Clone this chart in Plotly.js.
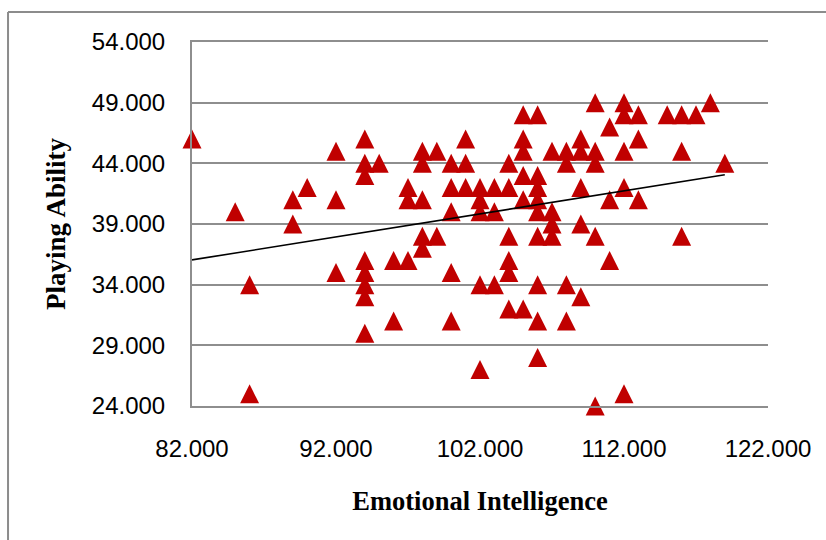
<!DOCTYPE html>
<html>
<head>
<meta charset="utf-8">
<script src="https://cdn.plot.ly/plotly-3.0.1.min.js"></script>
<style>
html,body{margin:0;padding:0;background:#ffffff;}
#chart{width:826px;height:540px;}
</style>
</head>
<body>
<div id="chart"></div>
<script>
// Emotional Intelligence (x) and Playing Ability (y) for each player
const emotionalIntelligence = [
  82, 85, 86, 86, 89, 89, 90, 92, 92, 92,
  94, 94, 94, 94, 94, 94, 94, 94, 95, 96, 96,
  97, 97, 97, 98, 98, 98, 98, 98, 99, 99,
  100, 100, 100, 100, 100, 101, 101, 101,
  102, 102, 102, 102, 102, 103, 103, 103,
  104, 104, 104, 104, 104, 104,
  105, 105, 105, 105, 105, 105,
  106, 106, 106, 106, 106, 106, 106, 106, 106,
  107, 107, 107, 107, 108, 108, 108, 108,
  109, 109, 109, 109, 109, 110, 110, 110, 110, 110,
  111, 111, 111, 112, 112, 112, 112, 112, 113, 113, 113,
  115, 116, 116, 116, 117, 118, 119
];
const playingAbility = [
  46, 40, 34, 25, 41, 39, 42, 45, 41, 35,
  46, 44, 43, 36, 35, 34, 33, 30, 44, 36, 31,
  42, 41, 36, 45, 44, 41, 38, 37, 45, 38,
  44, 42, 40, 35, 31, 46, 44, 42,
  42, 41, 40, 34, 27, 42, 40, 34,
  44, 42, 38, 36, 35, 32,
  48, 46, 45, 43, 41, 32,
  48, 43, 42, 41, 40, 38, 34, 31, 28,
  45, 40, 39, 38, 45, 44, 34, 31,
  46, 45, 42, 39, 33, 49, 45, 44, 38, 24,
  47, 41, 36, 49, 48, 45, 42, 25, 48, 46, 41,
  48, 48, 45, 38, 48, 49, 44
];
const xTickValues = [82, 92, 102, 112, 122];
const yTickValues = [24, 29, 34, 39, 44, 49, 54];
const xTitle = 'Emotional Intelligence';
const yTitle = 'Playing Ability';

// Linear least-squares trendline computed from the data
function linearFit(xs, ys) {
  const n = xs.length;
  let sx = 0, sy = 0;
  for (let i = 0; i < n; i++) { sx += xs[i]; sy += ys[i]; }
  const mx = sx / n, my = sy / n;
  let sxy = 0, sxx = 0;
  for (let i = 0; i < n; i++) {
    sxy += (xs[i] - mx) * (ys[i] - my);
    sxx += (xs[i] - mx) * (xs[i] - mx);
  }
  const slope = sxy / sxx;
  return { slope: slope, intercept: my - slope * mx };
}
const fit = linearFit(emotionalIntelligence, playingAbility);
const xMin = Math.min.apply(null, emotionalIntelligence);
const xMax = Math.max.apply(null, emotionalIntelligence);
const trendX = [xMin, xMax];
const trendY = trendX.map(v => fit.intercept + fit.slope * v);

const markerSize = 19;
const gridColor = '#8e8e8e';

const points = {
  type: 'scatter',
  mode: 'markers',
  x: emotionalIntelligence,
  y: playingAbility,
  cliponaxis: false,
  marker: {
    symbol: 'arrow-down',
    angle: 180,
    standoff: markerSize / 2,
    size: markerSize,
    color: '#C00000',
    line: { width: 0 }
  },
  hoverinfo: 'x+y',
  showlegend: false
};

const trend = {
  type: 'scatter',
  mode: 'lines',
  x: trendX,
  y: trendY,
  cliponaxis: false,
  line: { color: '#000000', width: 1.6 },
  hoverinfo: 'skip',
  showlegend: false
};

const layout = {
  width: 826,
  height: 540,
  paper_bgcolor: '#ffffff',
  plot_bgcolor: '#ffffff',
  margin: { l: 192, r: 58, t: 42, b: 134 },
  showlegend: false,
  font: { family: 'Liberation Sans, Arial, sans-serif', color: '#000000' },
  xaxis: {
    range: [82, 122],
    tickvals: xTickValues,
    tickformat: '.3f',
    showgrid: false,
    zeroline: false,
    showline: true,
    mirror: true,
    linecolor: gridColor,
    linewidth: 2,
    ticks: '',
    ticklabelstandoff: 20,
    tickfont: { family: 'Liberation Sans, Arial, sans-serif', size: 24, color: '#000000' },
    title: {
      text: xTitle,
      standoff: 31,
      font: { family: 'Liberation Serif, Times New Roman, serif', size: 26.5, color: '#000000', weight: 'bold' }
    },
    automargin: false,
    fixedrange: true
  },
  yaxis: {
    range: [24, 54],
    tickvals: yTickValues,
    tickformat: '.3f',
    showgrid: true,
    gridcolor: gridColor,
    gridwidth: 2,
    zeroline: false,
    showline: true,
    linecolor: gridColor,
    linewidth: 2,
    ticks: '',
    ticklabelstandoff: 20,
    tickfont: { family: 'Liberation Sans, Arial, sans-serif', size: 24, color: '#000000' },
    title: {
      text: yTitle,
      standoff: 18,
      font: { family: 'Liberation Serif, Times New Roman, serif', size: 27, color: '#000000', weight: 'bold' }
    },
    automargin: false,
    fixedrange: true
  },
  shapes: [
    { type: 'line', xref: 'paper', yref: 'paper', x0: -0.3194, x1: 1.2, y0: 1.0824, y1: 1.0824,
      line: { color: '#8c8c8c', width: 2 } },
    { type: 'line', xref: 'paper', yref: 'paper', x0: -0.3194, x1: -0.3194, y0: 1.0824, y1: -0.5,
      line: { color: '#8c8c8c', width: 2 } }
  ]
};

Plotly.newPlot('chart', [points, trend], layout, { displayModeBar: false, staticPlot: true });
</script>
</body>
</html>
